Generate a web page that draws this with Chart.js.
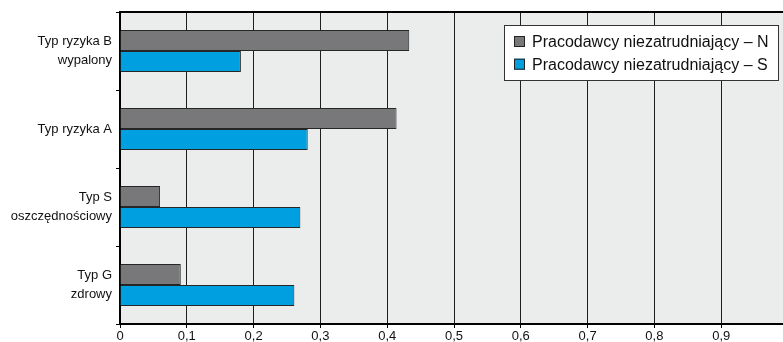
<!DOCTYPE html>
<html>
<head>
<meta charset="utf-8">
<script src="https://cdn.jsdelivr.net/npm/chart.js@4/dist/chart.umd.min.js"></script>
<style>
  html, body { margin: 0; padding: 0; background: #fff; overflow: hidden; }
  #wrap { width: 788px; height: 342px; }
</style>
</head>
<body>
<div id="wrap"><canvas id="c" width="788" height="342"></canvas></div>
<script>
// Respondent types (top to bottom)
const categories = [
  ['Typ ryzyka B', 'wypalony'],
  'Typ ryzyka A',
  ['Typ S', 'oszczędnościowy'],
  ['Typ G', 'zdrowy']
];
const seriesNames = [
  'Pracodawcy niezatrudniający – N',
  'Pracodawcy niezatrudniający – S'
];
const valuesN = [0.433, 0.414, 0.060, 0.091];
const valuesS = [0.181, 0.281, 0.270, 0.261];
const xTickLabels = ['0', '0,1', '0,2', '0,3', '0,4', '0,5', '0,6', '0,7', '0,8', '0,9', ''];

const FONT = '"Liberation Sans", Arial, Helvetica, sans-serif';

// Plot background and the top frame line
const frame = {
  id: 'frame',
  beforeDraw(chart) {
    const { ctx, chartArea: a } = chart;
    ctx.save();
    ctx.fillStyle = '#ebecec';
    ctx.fillRect(a.left, a.top, a.right - a.left, a.bottom - a.top);
    ctx.restore();
  },
  afterDraw(chart) {
    const { ctx, chartArea: a } = chart;
    ctx.save();
    ctx.strokeStyle = '#000';
    ctx.lineWidth = 2;
    ctx.beginPath();
    ctx.moveTo(a.left - 1, a.top);
    ctx.lineTo(a.right, a.top);
    ctx.stroke();
    ctx.restore();
  }
};

// Boxed legend drawn inside the plot area
const boxLegend = {
  id: 'boxLegend',
  afterDraw(chart, args, o) {
    const { ctx } = chart;
    ctx.save();
    ctx.fillStyle = '#fff';
    ctx.fillRect(o.x, o.y, o.w, o.h);
    ctx.strokeStyle = '#333';
    ctx.lineWidth = 1;
    ctx.strokeRect(o.x + 0.5, o.y + 0.5, o.w, o.h);
    ctx.font = o.fontSize + 'px ' + FONT;
    ctx.textBaseline = 'middle';
    chart.data.datasets.forEach((ds, i) => {
      const cy = o.y + o.firstRow + i * o.rowGap;
      ctx.fillStyle = ds.backgroundColor;
      ctx.fillRect(o.x + o.boxLeft, cy - o.box / 2, o.box, o.box);
      ctx.strokeStyle = '#222';
      ctx.strokeRect(o.x + o.boxLeft + 0.5, cy - o.box / 2 + 0.5, o.box - 1, o.box - 1);
      ctx.fillStyle = '#111';
      ctx.fillText(ds.label, o.x + o.textLeft, cy + 1);
    });
    ctx.restore();
  }
};

new Chart(document.getElementById('c'), {
  type: 'bar',
  data: {
    labels: categories,
    datasets: [
      { label: seriesNames[0], data: valuesN, backgroundColor: '#78787a', borderColor: '#262626', borderWidth: 1 },
      { label: seriesNames[1], data: valuesS, backgroundColor: '#009fe0', borderColor: '#262626', borderWidth: 1 }
    ]
  },
  options: {
    indexAxis: 'y',
    responsive: false,
    animation: false,
    devicePixelRatio: 1,
    categoryPercentage: 0.54,
    barPercentage: 1.0,
    layout: { padding: { top: 12, right: 0, left: 0, bottom: 0 } },
    plugins: {
      legend: { display: false },
      tooltip: { enabled: false },
      boxLegend: { x: 504, y: 25, w: 274, h: 55, firstRow: 16.5, rowGap: 22.7, box: 11, boxLeft: 10, textLeft: 28, fontSize: 16 }
    },
    scales: {
      x: {
        min: 0, max: 1,
        ticks: {
          stepSize: 0.1,
          autoSkip: false,
          maxRotation: 0,
          padding: 1,
          color: '#111',
          font: { family: FONT, size: 13 },
          callback: (v, i) => xTickLabels[i]
        },
        grid: { color: '#1e1e1e', lineWidth: 1, tickLength: 4, drawTicks: true, tickColor: '#000' },
        border: { display: true, color: '#000', width: 2 },
        afterFit: (s) => { s.height = 18; s.paddingLeft = 0; s.paddingRight = 0; }
      },
      y: {
        ticks: {
          padding: 4,
          color: '#111',
          font: { family: FONT, size: 13, lineHeight: 1.4 }
        },
        grid: { drawOnChartArea: false, drawTicks: true, tickLength: 4, offset: true, color: '#000', tickColor: '#000' },
        border: { display: true, color: '#000', width: 2 },
        afterFit: (s) => { s.width = 120; s.paddingTop = 0; s.paddingBottom = 0; }
      }
    }
  },
  plugins: [frame, boxLegend]
});
</script>
</body>
</html>
